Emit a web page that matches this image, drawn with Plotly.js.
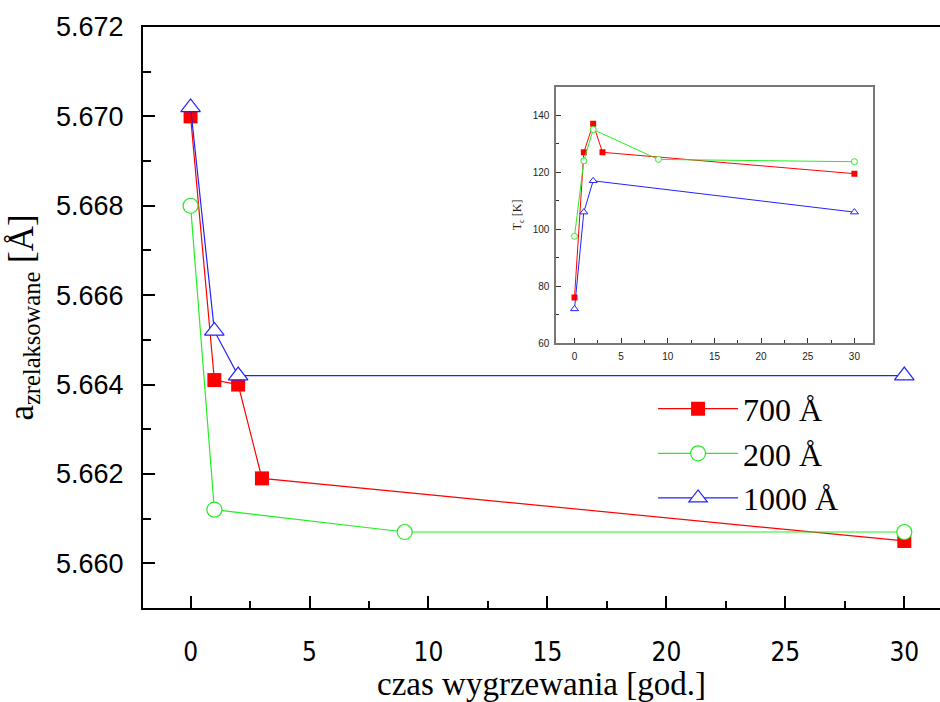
<!DOCTYPE html>
<html>
<head>
<meta charset="utf-8">
<script src="https://cdn.plot.ly/plotly-3.0.1.min.js"></script>
<style>html,body{margin:0;padding:0;background:#fff;}#chart{width:940px;height:702px;}</style>
</head>
<body>
<div id="chart"></div>
<script>
// Main chart data: time of annealing [hours] vs relaxed lattice parameter [Å]
var x700 = [0, 1, 2, 3, 30];
var y700 = [5.6700, 5.6641, 5.6640, 5.6619, 5.6605];
var x200 = [0, 1, 9, 30];
var y200 = [5.6680, 5.6612, 5.6607, 5.6607];
var x1000 = [0, 1, 2, 30];
var y1000 = [5.6702, 5.6652, 5.6642, 5.6642];

// Inset data: Tc [K]
var ix700 = [0, 1, 2, 3, 30];
var iy700 = [76, 127, 137, 127, 119.5];
var ix200 = [0, 1, 2, 9, 30];
var iy200 = [97.5, 124, 135, 124.5, 123.7];
var ix1000 = [0, 1, 2, 30];
var iy1000 = [72, 106, 117, 106];

var names = ['700 Å', '200 Å', '1000 Å'];
var RED = '#ff0000', GREEN = '#22ee22', BLUE = '#2222ff';

var traces = [
  {x: x700, y: y700, name: names[0], mode: 'lines+markers', type: 'scatter',
   line: {color: RED, width: 1.2},
   marker: {symbol: 'square', size: 14, color: RED, line: {width: 0}}},
  {x: x200, y: y200, name: names[1], mode: 'lines+markers', type: 'scatter',
   line: {color: GREEN, width: 1.2},
   marker: {symbol: 'circle', size: 15, color: '#ffffff', line: {color: GREEN, width: 1.2}}},
  {x: x1000, y: y1000, name: names[2], mode: 'lines+markers', type: 'scatter',
   line: {color: BLUE, width: 1.2},
   marker: {symbol: 'triangle-up', size: 17, color: '#ffffff', line: {color: BLUE, width: 1.2}}},
  {x: ix700, y: iy700, xaxis: 'x2', yaxis: 'y2', showlegend: false, mode: 'lines+markers', type: 'scatter',
   line: {color: RED, width: 1},
   marker: {symbol: 'square', size: 6, color: RED, line: {width: 0}}},
  {x: ix200, y: iy200, xaxis: 'x2', yaxis: 'y2', showlegend: false, mode: 'lines+markers', type: 'scatter',
   line: {color: GREEN, width: 1},
   marker: {symbol: 'circle', size: 6, color: '#ffffff', line: {color: GREEN, width: 1}}},
  {x: ix1000, y: iy1000, xaxis: 'x2', yaxis: 'y2', showlegend: false, mode: 'lines+markers', type: 'scatter',
   line: {color: BLUE, width: 1},
   marker: {symbol: 'triangle-up', size: 7, color: '#ffffff', line: {color: BLUE, width: 1}}}
];

var layout = {
  width: 940, height: 702,
  margin: {l: 143, r: 0, t: 27, b: 94, pad: 0},
  paper_bgcolor: '#ffffff', plot_bgcolor: '#ffffff',
  showlegend: true,
  legend: {x: 0.64, y: 0.39, xanchor: 'left', yanchor: 'top', bgcolor: 'rgba(0,0,0,0)',
           font: {family: 'Liberation Serif, Times New Roman, serif', size: 32, color: '#000'},
           itemwidth: 80, tracegroupgap: 0},
  xaxis: {
    domain: [0, 1], range: [-2, 31.5], showgrid: false, zeroline: false,
    showline: true, linecolor: '#000', linewidth: 2, mirror: true,
    ticks: 'inside', ticklen: 12, tickwidth: 2, tickcolor: '#000',
    tick0: 0, dtick: 5,
    minor: {ticks: 'inside', ticklen: 7, tickwidth: 2, tickcolor: '#000', dtick: 2.5, showgrid: false},
    tickfont: {family: 'Liberation Sans Narrow, Arial Narrow, DejaVu Sans Condensed, sans-serif', size: 26, color: '#000'},
    ticklabelstandoff: 20,
    title: {text: 'czas wygrzewania [god.]', standoff: 10,
            font: {family: 'Liberation Serif, Times New Roman, serif', size: 33, color: '#000'}}
  },
  yaxis: {
    domain: [0, 1], range: [5.659, 5.672], showgrid: false, zeroline: false,
    showline: true, linecolor: '#000', linewidth: 2, mirror: false,
    ticks: 'inside', ticklen: 12, tickwidth: 2, tickcolor: '#000',
    tick0: 5.660, dtick: 0.002, tickformat: '.3f',
    minor: {ticks: 'inside', ticklen: 8, tickwidth: 2, tickcolor: '#000', dtick: 0.001, showgrid: false},
    tickfont: {family: 'Liberation Sans, Arial, sans-serif', size: 27, color: '#000'},
    ticklabelstandoff: 12,
    title: {text: 'a<sub>zrelaksowane</sub> [Å]', standoff: 12,
            font: {family: 'Liberation Serif, Times New Roman, serif', size: 35, color: '#000'}}
  },
  xaxis2: {
    domain: [0.518, 0.916], anchor: 'y2', range: [-2, 32], showgrid: false, zeroline: false,
    showline: true, linecolor: '#777', linewidth: 1.5, mirror: true,
    ticks: 'inside', ticklen: 5, tickwidth: 1, tickcolor: '#333',
    tick0: 0, dtick: 5,
    minor: {ticks: 'inside', ticklen: 3, tickwidth: 1, tickcolor: '#333', dtick: 2.5, showgrid: false},
    tickfont: {family: 'Liberation Sans, Arial, sans-serif', size: 10, color: '#222'},
    ticklabelstandoff: 3
  },
  yaxis2: {
    domain: [0.456, 0.897], anchor: 'x2', range: [60, 150], showgrid: false, zeroline: false,
    showline: true, linecolor: '#777', linewidth: 1.5, mirror: true,
    ticks: 'inside', ticklen: 5, tickwidth: 1, tickcolor: '#333',
    tick0: 60, dtick: 20,
    minor: {ticks: 'inside', ticklen: 3, tickwidth: 1, tickcolor: '#333', dtick: 10, showgrid: false},
    tickfont: {family: 'Liberation Sans, Arial, sans-serif', size: 10, color: '#222'},
    ticklabelstandoff: 3,
    title: {text: 'T<sub>c</sub> [K]', standoff: 8,
            font: {family: 'Liberation Serif, Times New Roman, serif', size: 12, color: '#222'}}
  }
};

Plotly.newPlot('chart', traces, layout, {staticPlot: true, displayModeBar: false});
</script>
</body>
</html>
